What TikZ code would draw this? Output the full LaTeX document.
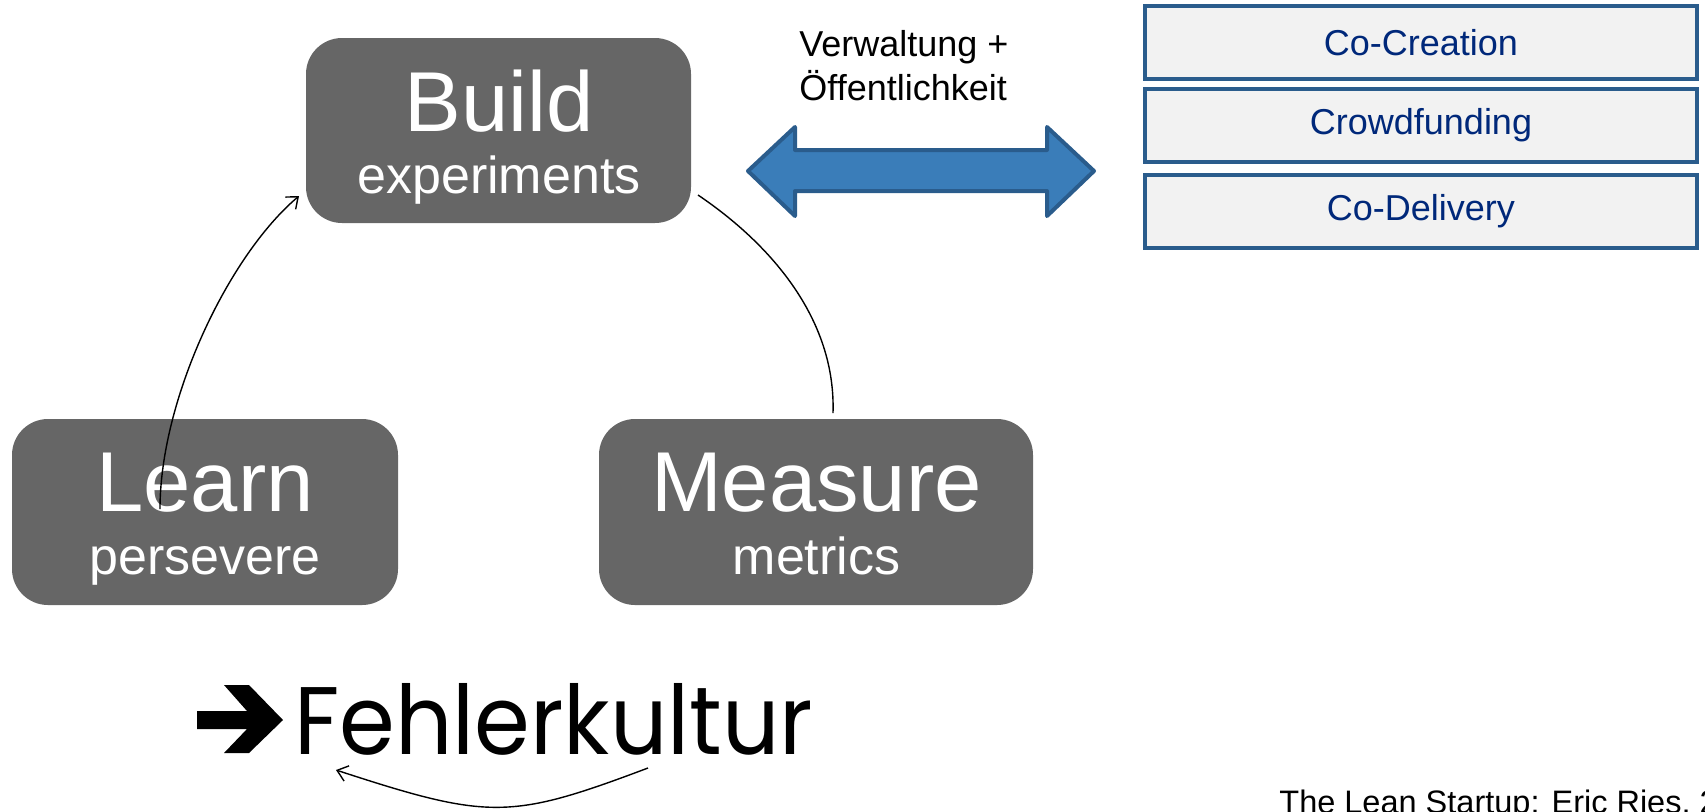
\documentclass[tikz,border=0pt]{standalone}
\usepackage{fontspec}
\setmainfont{Liberation Sans}
\newfontfamily\geofont[FakeStretch=0.935]{Poppins}
\usetikzlibrary{arrows.meta}

\definecolor{boxgray}{RGB}{102,102,102}
\definecolor{arrowblue}{RGB}{58,125,185}
\definecolor{edgeblue}{RGB}{42,92,140}
\definecolor{boxfill}{RGB}{242,242,242}
\definecolor{textblue}{RGB}{0,40,122}

\begin{document}
\begin{tikzpicture}[x=0.5pt,y=0.5pt,yscale=-1,xscale=1,
  phase/.style={fill=boxgray,rounded corners=18pt,inner sep=0pt},
  bigtxt/.style={text=white,font=\fontsize{42.5}{50}\selectfont,anchor=base,inner sep=0pt},
  subtxt/.style={text=white,font=\fontsize{26}{31}\selectfont,anchor=base,inner sep=0pt},
  partbox/.style={draw=edgeblue,line width=2pt,fill=boxfill,minimum width=276pt,minimum height=36.5pt,inner sep=0pt,text=textblue,font=\fontsize{18}{22}\selectfont},
  cycleline/.style={line width=0.7pt},
  >={Straight Barb[length=5pt,width=8pt]}]
\clip (0,0) rectangle (1705,811);

%Rounded Rect (Build)
\node [phase,minimum width=192.5pt,minimum height=92.5pt] (build) at (498.5,130.5) {};
%Rounded Rect (Learn)
\node [phase,minimum width=193pt,minimum height=93pt] (learn) at (205,512) {};
%Rounded Rect (Measure)
\node [phase,minimum width=217pt,minimum height=93pt] (measure) at (816,512) {};

% Text Node
\node [bigtxt] (buildT) at (499,131) {Build};
\node [subtxt] (buildS) at (499,193) {experiments};
% Text Node
\node [bigtxt] (learnT) at (205,511) {Learn};
\node [subtxt] (learnS) at (205,574) {persevere};
% Text Node
\node [bigtxt] (measureT) at (816.5,511) {Measure};
\node [subtxt] (measureS) at (816.5,574) {metrics};

%Curve Lines
\coordinate (bmA) at (698,195);
\coordinate (bmB) at (833,413);
\coordinate (lbA) at (160,509);
\coordinate (lbB) at (299,196);
\draw [cycleline] (bmA) .. controls (772,245) and (836,320) .. (bmB);
\draw [cycleline,->] (lbA) .. controls (160,400) and (228,256) .. (lbB);

%Double Arrow
\draw [draw=edgeblue,fill=arrowblue,line width=2pt,line join=round] (748,171) -- (795,127) -- (795,150) -- (1047,150) -- (1047,127) -- (1094,171) -- (1047,216) -- (1047,191) -- (795,191) -- (795,216) -- cycle;

% Text Node
\node [anchor=base west,inner sep=0pt,font=\fontsize{18}{22}\selectfont] (verw) at (799,56) {Verwaltung +};
\node [anchor=base west,inner sep=0pt,font=\fontsize{18}{22}\selectfont] (oeff) at (799,100) {Öffentlichkeit};

%Boxes
\node [partbox] (cocreation) at (1421,42.5) {Co-Creation};
\node [partbox] (crowdfunding) at (1421,125.5) {Crowdfunding};
\node [partbox] (codelivery) at (1421,211) {Co-Delivery};

%Fehlerkultur
\fill (197,711) -- (247,711) -- (224,685) -- (249,685) -- (283,720) -- (249,753) -- (224,753) -- (247,729) -- (197,729) -- cycle;
\node [anchor=base west,inner sep=0pt,font=\geofont\fontsize{48}{56}\selectfont] (fehler) at (294,754) {Fehlerkultur};
\coordinate (fkA) at (648,768);
\coordinate (fkB) at (336,770);
\draw [cycleline,->] (fkA) .. controls (510,820) and (489,820) .. (fkB);

% Text Node
\node [anchor=base west,inner sep=0pt,font=\fontsize{16.25}{20}\selectfont] (source) at (1279,813) {The Lean Startup: Eric Ries, 2};

\end{tikzpicture}
\end{document}
